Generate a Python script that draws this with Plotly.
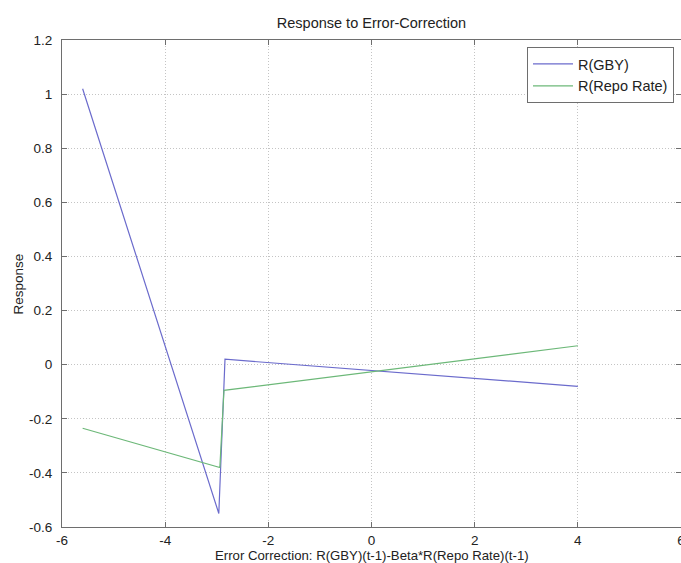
import plotly.graph_objects as go

# Data
gby_x = [-5.6, -2.96, -2.84, 4.0]
gby_y = [1.02, -0.55, 0.02, -0.08]
repo_x = [-5.6, -2.94, -2.86, 4.0]
repo_y = [-0.235, -0.38, -0.095, 0.07]

x_ticks = [-6, -4, -2, 0, 2, 4, 6]
x_tick_text = ["-6", "-4", "-2", "0", "2", "4", "6"]
y_ticks = [-0.6, -0.4, -0.2, 0, 0.2, 0.4, 0.6, 0.8, 1, 1.2]
y_tick_text = ["-0.6", "-0.4", "-0.2", "0", "0.2", "0.4", "0.6", "0.8", "1", "1.2"]

FONT = "Liberation Sans, Arial, sans-serif"
GBY_COLOR = "#6b6bcc"
REPO_COLOR = "#6cb878"
TXT = "#222222"

W, H = 681, 563
ML, MT, MB = 62, 40, 36

fig = go.Figure()
fig.add_trace(go.Scatter(x=gby_x, y=gby_y, mode="lines", name="R(GBY)",
                         line=dict(color=GBY_COLOR, width=1.2)))
fig.add_trace(go.Scatter(x=repo_x, y=repo_y, mode="lines", name="R(Repo Rate)",
                         line=dict(color=REPO_COLOR, width=1.2)))

axis_common = dict(
    showline=True, linecolor="#6e6e6e", linewidth=1, mirror="ticks",
    ticks="inside", ticklen=5, tickcolor="#6e6e6e",
    showgrid=True, gridcolor="#c4c4c4", griddash="1px,2px", gridwidth=1,
    zeroline=False, automargin=False,
    tickfont=dict(family=FONT, size=13.5, color=TXT),
)

plot_w = W - ML
plot_h = H - MT - MB

fig.update_layout(
    width=W, height=H,
    margin=dict(l=ML, r=0, t=MT, b=MB),
    paper_bgcolor="white", plot_bgcolor="white",
    font=dict(family=FONT, size=13, color=TXT),
    title=dict(text="Response to Error-Correction", x=0.5, xref="paper",
               y=1 - 23 / H, yref="container", yanchor="middle",
               font=dict(family=FONT, size=14.5, color=TXT)),
    xaxis=dict(range=[-6, 6], tickvals=x_ticks, ticktext=x_tick_text,
               ticklabeloverflow="allow", ticklabelstandoff=1, **axis_common),
    yaxis=dict(range=[-0.6, 1.2], tickvals=y_ticks, ticktext=y_tick_text,
               ticklabelstandoff=6, **axis_common),
    legend=dict(x=(527 - ML) / plot_w, y=1 - 7 / plot_h, xanchor="left", yanchor="top",
                bgcolor="white", bordercolor="#6e6e6e", borderwidth=1,
                font=dict(family=FONT, size=14.5, color=TXT),
                tracegroupgap=0, itemwidth=40),
    showlegend=True,
    template="none",
    annotations=[
        dict(text="Error Correction: R(GBY)(t-1)-Beta*R(Repo Rate)(t-1)",
             xref="paper", x=0.5, yref="paper", y=-(555 - MT - plot_h) / plot_h,
             xanchor="center", yanchor="middle", showarrow=False,
             font=dict(family=FONT, size=13.2, color=TXT)),
        dict(text="Response", xref="paper", x=-(ML - 18) / plot_w,
             yref="paper", y=0.5, textangle=-90,
             xanchor="center", yanchor="middle", showarrow=False,
             font=dict(family=FONT, size=13.5, color=TXT)),
    ],
)

fig.write_html("out.html", config={"displayModeBar": False},
               post_script="document.body.style.margin='0';")
